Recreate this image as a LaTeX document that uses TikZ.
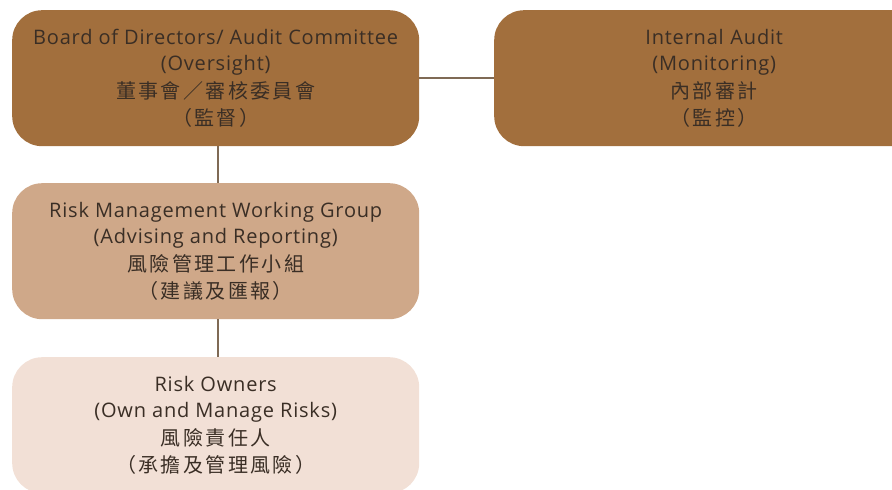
\documentclass[tikz,border=0pt]{standalone}
\usepackage{fontspec}
\setmainfont[LetterSpace=4]{Open Sans}
\newfontfamily\cjk[LetterSpace=12]{Noto Sans CJK TC}
\definecolor{boxA}{HTML}{A26F3D}
\definecolor{boxB}{HTML}{CFA889}
\definecolor{boxC}{HTML}{F2E0D6}
\definecolor{txt}{HTML}{3A2E25}
\definecolor{conn}{HTML}{7F6A55}
\begin{document}
\begin{tikzpicture}[x=1pt,y=-1pt,
  orgbox/.style={rounded corners=30pt, minimum width=407pt, minimum height=136pt, inner sep=0pt,
    text=txt, align=center, font=\fontsize{20}{26.5}\selectfont, anchor=north west},
  link/.style={draw=conn, line width=1.6pt}]
\useasboundingbox (0,0) rectangle (892,490);
\clip (0,0) rectangle (892,490);
\node[orgbox, fill=boxA] (board) at (12,10) {Board of Directors/ Audit Committee\\(Oversight)\\[1.5pt]{\cjk 董事會／審核委員會}\\{\cjk （監督）}};
\node[orgbox, fill=boxA, minimum width=440pt, text width=400pt] (audit) at (494,10) {Internal Audit\\(Monitoring)\\[1.5pt]{\cjk 內部審計}\\{\cjk （監控）}};
\node[orgbox, fill=boxB] (rmwg) at (12,183) {Risk Management Working Group\\(Advising and Reporting)\\[1.5pt]{\cjk 風險管理工作小組}\\{\cjk （建議及匯報）}};
\node[orgbox, fill=boxC] (owners) at (12,357) {Risk Owners\\(Own and Manage Risks)\\[1.5pt]{\cjk 風險責任人}\\{\cjk （承擔及管理風險）}};
\draw[link] (board.east) -- (board.east -| audit.west);
\draw[link] ([xshift=2pt]board.south) -- ([xshift=2pt]rmwg.north);
\draw[link] ([xshift=2pt]rmwg.south) -- ([xshift=2pt]owners.north);
\end{tikzpicture}
\end{document}
